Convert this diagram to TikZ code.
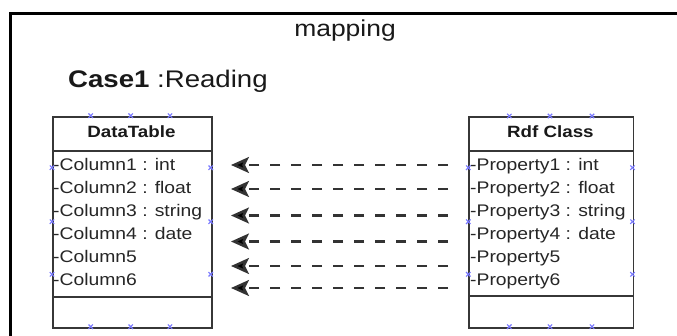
\documentclass[tikz,border=0pt]{standalone}
\usepackage{fontspec}
\setmainfont{Liberation Sans}[FakeStretch=1.15]
\usetikzlibrary{arrows.meta}
\definecolor{boxline}{RGB}{55,55,55}
\definecolor{handle}{RGB}{120,120,255}
\begin{document}
\begin{tikzpicture}[x=1pt,y=-1pt,
  frame/.style={line width=2.6pt,black},
  umlbox/.style={draw=boxline,line width=1.9pt,inner sep=0pt,anchor=north west},
  sepline/.style={draw=boxline,line width=1.9pt},
  attr/.style={anchor=base west,inner sep=0pt,font=\fontsize{16.8}{18}\selectfont,text=black!85},
  ttl/.style={anchor=base,inner sep=0pt,font=\bfseries\fontsize{16.3}{18}\selectfont,text=black!90},
  heading/.style={anchor=base west,inner sep=0pt,font=\fontsize{24}{26}\selectfont,text=black!90},
  toptitle/.style={anchor=base,inner sep=0pt,font=\fontsize{23}{25}\selectfont,text=black!90},
  maparrow/.style={line width=2.5pt,draw=black!80,dash pattern=on 10pt off 11pt,
    -{Stealth[length=18pt,width=16pt,inset=4pt,fill=black]}},
  handlemark/.style={draw=handle,line width=1.1pt}]
\useasboundingbox (0,0) rectangle (677,336);
\clip (0,0) rectangle (677,336);
\fill[white] (0,0) rectangle (677,336);

% outer frame
\draw[frame] (10.5,345) -- (10.5,13.5) -- (690,13.5);

% titles
\node[toptitle] (maptitle) at (345,37) {mapping};
\node[heading] (casetitle) at (68,88) {\textbf{Case1} :Reading};

% left class box
\node[umlbox,minimum width=158.7pt,minimum height=211pt] (dtbox) at (52,115.7) {};
\draw[sepline] (52,150.7) -- (210.7,150.7);
\draw[sepline] (52,296.7) -- (210.7,296.7);
\node[ttl] (dttitle) at (131.4,137.6) {DataTable};
\node[attr] (c1) at (53,171) {-Column1 : int};
\node[attr] (c2) at (53,194) {-Column2 : float};
\node[attr] (c3) at (53,217) {-Column3 : string};
\node[attr] (c4) at (53,240) {-Column4 : date};
\node[attr] (c5) at (53,263) {-Column5};
\node[attr] (c6) at (53,286) {-Column6};

% right class box
\node[umlbox,minimum width=164.2pt,minimum height=210.7pt] (rdfbox) at (468.3,116) {};
\draw[sepline] (468.3,151) -- (632.5,151);
\draw[sepline] (468.3,296.3) -- (632.5,296.3);
\node[ttl] (rdftitle) at (550.4,137.6) {Rdf Class};
\node[attr] (p1) at (470,171) {-Property1 : int};
\node[attr] (p2) at (470,194) {-Property2 : float};
\node[attr] (p3) at (470,217) {-Property3 : string};
\node[attr] (p4) at (470,240) {-Property4 : date};
\node[attr] (p5) at (470,263) {-Property5};
\node[attr] (p6) at (470,286) {-Property6};

% arrow end points
\coordinate (s1) at (448,165);   \coordinate (e1) at (231,165);
\coordinate (s2) at (448,189);   \coordinate (e2) at (231,189);
\coordinate (s3) at (448,215.5); \coordinate (e3) at (231,215.5);
\coordinate (s4) at (448,241.5); \coordinate (e4) at (231,241.5);
\coordinate (s5) at (448,266);   \coordinate (e5) at (231,266);
\coordinate (s6) at (448,288);   \coordinate (e6) at (231,288);
\foreach \i in {1,...,6} {\draw[maparrow] (s\i) -- (e\i);}

% selection handles
\foreach \hx/\hy in {90.7/115.7,130.7/115.7,170/115.7,90.7/326.7,130.7/326.7,170/326.7,
  52/167.7,52/221.7,52/274.3,210.7/167.7,210.7/221.7,210.7/274.3,
  509.3/116,550/116,592/116,509.3/326.7,550/326.7,592/326.7,
  468.3/167.7,468.3/221.7,468.3/274.3,632.5/167.7,632.5/221.7,632.5/274.3}
  {\draw[handlemark] (\hx-2.2,\hy-2.2) -- (\hx+2.2,\hy+2.2) (\hx-2.2,\hy+2.2) -- (\hx+2.2,\hy-2.2);}
\end{tikzpicture}
\end{document}
